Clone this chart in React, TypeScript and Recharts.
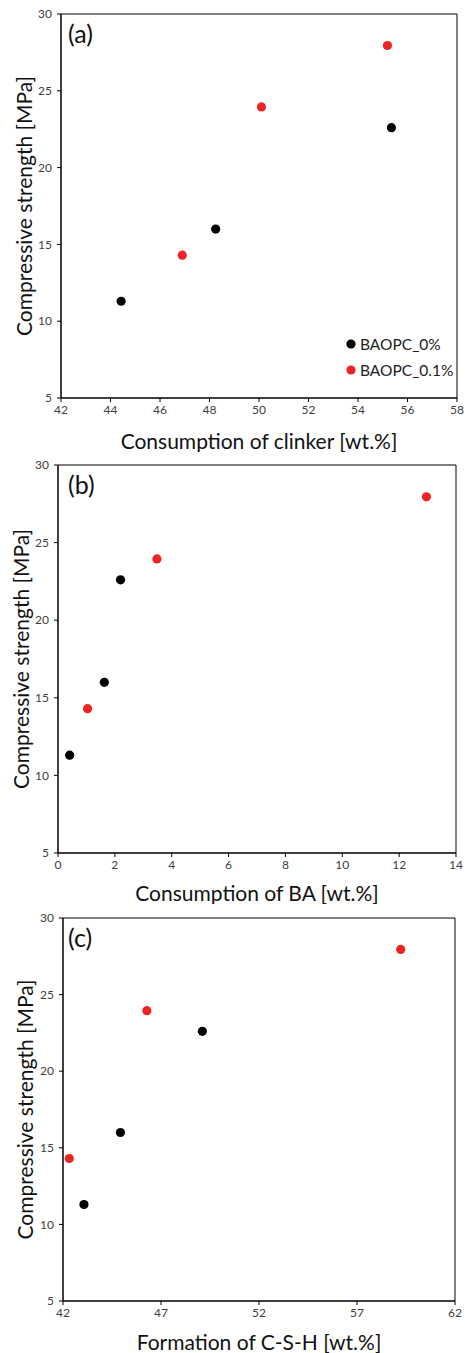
import React from 'react';
import { ScatterChart, Scatter, XAxis, YAxis, ReferenceArea, Legend } from 'recharts';

const strength0 = [11.3, 16.0, 22.6];
const strength01 = [14.3, 23.95, 27.95];

const clinker0 = [44.43, 48.25, 55.35];
const clinker01 = [46.9, 50.1, 55.19];
const ba0 = [0.41, 1.63, 2.2];
const ba01 = [1.04, 3.48, 12.96];
const csh0 = [43.07, 44.93, 49.11];
const csh01 = [42.32, 46.28, 59.23];

const strengthTicks = [5, 10, 15, 20, 25, 30];
const clinkerTicks = [42, 44, 46, 48, 50, 52, 54, 56, 58];
const baTicks = [0, 2, 4, 6, 8, 10, 12, 14];
const cshTicks = [42, 47, 52, 57, 62];

const seriesNames = ['BAOPC_0%', 'BAOPC_0.1%'];
const RED = '#ee2424';
const FONT = 'Lato, "Open Sans", sans-serif';

const toPoints = (xs: number[], ys: number[]) => xs.map((x, i) => ({ x, y: ys[i] }));

const Dot = (props: any) => {
  const { cx, cy, fill } = props;
  return <circle cx={cx} cy={cy} r={4.6} fill={fill} />;
};

const LegendBox = () => (
  <div style={{ fontFamily: FONT, fontSize: 15.5, color: '#222' }}>
    {seriesNames.map((name, i) => (
      <div key={name} style={{ display: 'flex', alignItems: 'center', height: 26 }}>
        <svg width={12} height={12} style={{ marginRight: 3 }}>
          <circle cx={6} cy={6} r={4.6} fill={i === 0 ? '#000' : RED} />
        </svg>
        <span>{name}</span>
      </div>
    ))}
  </div>
);

interface PanelProps {
  top: number;
  letter: string;
  xs0: number[];
  xs01: number[];
  xTicks: number[];
  xLabel: string;
  left: number;
  right: number;
  plotTop: number;
  plotBottom: number;
  height: number;
  yLabelOffset: number;
  showLegend?: boolean;
}

const Panel: React.FC<PanelProps> = ({ top, letter, xs0, xs01, xTicks, xLabel, left, right, plotTop, plotBottom, height, yLabelOffset, showLegend }) => {
  const xDomain = [xTicks[0], xTicks[xTicks.length - 1]];
  const tick = { fontSize: 12, fill: '#404040', fontFamily: FONT };
  return (
    <div style={{ position: 'absolute', left: 0, top, width: 465, height }}>
      <ScatterChart
        width={465}
        height={height}
        margin={{ top: plotTop, right: 465 - right, left: 0, bottom: 0 }}
      >
        <XAxis
          type="number"
          dataKey="x"
          domain={xDomain}
          ticks={xTicks}
          interval={0}
          height={height - plotBottom}
          tick={tick}
          tickSize={4}
          tickMargin={3}
          stroke="#000"
          label={{ value: xLabel, position: 'insideBottom', offset: 3, style: { fontSize: 21, fill: '#111', fontFamily: FONT } }}
        />
        <YAxis
          type="number"
          dataKey="y"
          domain={[5, 30]}
          ticks={strengthTicks}
          interval={0}
          width={left}
          tick={tick}
          tickSize={4}
          tickMargin={5}
          stroke="#000"
          label={{ value: 'Compressive strength [MPa]', angle: -90, position: 'insideLeft', offset: yLabelOffset, style: { textAnchor: 'middle', fontSize: 21, fill: '#111', fontFamily: FONT } }}
        />
        <ReferenceArea x1={xDomain[0]} x2={xDomain[1]} y1={5} y2={30} fill="none" stroke="#000" strokeWidth={1} />
        {showLegend && (
          <Legend
            layout="vertical"
            align="center"
            verticalAlign="middle"
            content={<LegendBox />}
            wrapperStyle={{ position: 'absolute', left: 345, top: 331, width: 120 }}
          />
        )}
        <Scatter name={seriesNames[0]} data={toPoints(xs0, strength0)} fill="#000" shape={<Dot />} isAnimationActive={false} />
        <Scatter name={seriesNames[1]} data={toPoints(xs01, strength01)} fill={RED} shape={<Dot />} isAnimationActive={false} />
      </ScatterChart>
      <span style={{ position: 'absolute', left: 68, top: plotTop + 4, fontFamily: FONT, fontSize: 25, color: '#111' }}>{letter}</span>
    </div>
  );
};

export default function App() {
  return (
    <div style={{ position: 'absolute', left: 0, top: 0, width: 465, height: 1353, background: '#fff' }}>
      <Panel top={0} letter="(a)" xs0={clinker0} xs01={clinker01} xTicks={clinkerTicks} xLabel="Consumption of clinker [wt.%]"
        left={61} right={457} plotTop={14} plotBottom={398} height={452} yLabelOffset={25} showLegend />
      <Panel top={452} letter="(b)" xs0={ba0} xs01={ba01} xTicks={baTicks} xLabel="Consumption of BA [wt.%]"
        left={58} right={456} plotTop={13} plotBottom={401} height={452} yLabelOffset={22} />
      <Panel top={904} letter="(c)" xs0={csh0} xs01={csh01} xTicks={cshTicks} xLabel="Formation of C-S-H [wt.%]"
        left={63} right={455} plotTop={14} plotBottom={397} height={449} yLabelOffset={26} />
    </div>
  );
}
